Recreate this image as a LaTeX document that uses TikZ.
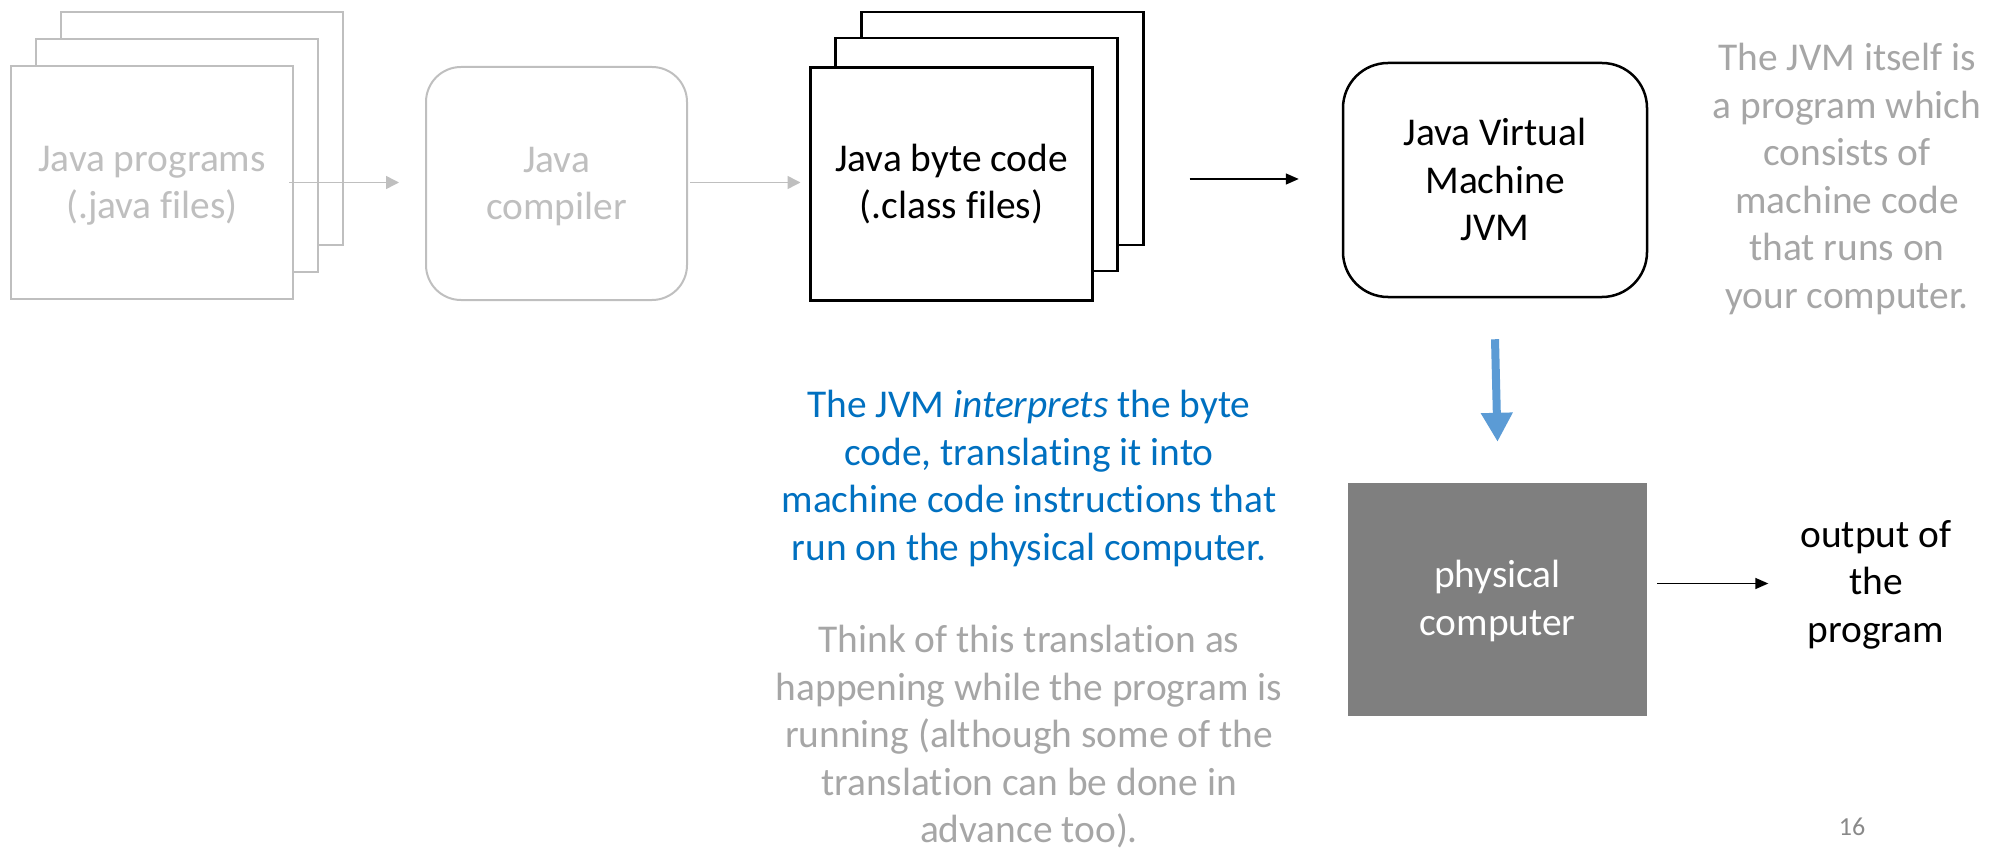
\documentclass[tikz,border=0pt]{standalone}
\usepackage{fontspec}
\setmainfont{Carlito}[Ligatures=NoCommon]
\usetikzlibrary{arrows.meta}

\definecolor{dimgray}{HTML}{BFBFBF}
\definecolor{notegray}{HTML}{A6A6A6}
\definecolor{noteblue}{HTML}{0070C0}
\definecolor{flowblue}{HTML}{5B9BD5}
\definecolor{hwgray}{HTML}{7F7F7F}
\definecolor{numgray}{HTML}{898989}

% multi-line labels are placed by the baseline of their last line
\tikzset{
  bigtext/.style={font=\fontsize{39.4}{47.4}\selectfont, align=center,
                  inner sep=0pt, anchor=base},
  page/.style={rectangle, fill=white, inner sep=0pt, outer sep=0pt,
               minimum width=282pt, minimum height=233pt},
  dimpage/.style={page, draw=dimgray, line width=2.5pt},
  inkpage/.style={page, draw=black, line width=2.5pt},
  dimbox/.style={rectangle, rounded corners=35pt, draw=dimgray, line width=2pt,
                 inner sep=0pt, minimum width=261pt, minimum height=233pt},
  inkbox/.style={rectangle, rounded corners=45pt, draw=black, line width=2.5pt,
                 inner sep=0pt, minimum width=304pt, minimum height=234pt},
  hwbox/.style={rectangle, fill=hwgray, inner sep=0pt,
                minimum width=299pt, minimum height=233pt},
  dimarrow/.style={draw=dimgray, line width=1.5pt, -{Triangle[length=13pt,width=13pt]}},
  inkarrow/.style={draw=black, line width=1.5pt, -{Triangle[length=13pt,width=11pt]}},
  fatarrow/.style={draw=flowblue, line width=8pt, -{Triangle[length=29pt,width=30pt]}},
}

\begin{document}
\begin{tikzpicture}[x=1pt, y=-1pt]
  \useasboundingbox (0,0) rectangle (1996,850);

  % source files: a stack of three pages
  \node[dimpage] (srcback) at (202,128.5) {};
  \node[dimpage] (srcmid)  at (177,155.5) {};
  \node[dimpage] (srcfront) at (152,182.5) {};
  \node[bigtext, text=dimgray] (srclabel) at (152,219) {Java programs\\(.java files)};

  % compiler
  \node[dimbox] (compiler) at (556.5,183.5) {};
  \node[bigtext, text=dimgray] (complabel) at (556.5,220) {Java\\compiler};

  % byte code: a stack of three pages
  \node[inkpage] (bcback) at (1002.5,128.5) {};
  \node[inkpage] (bcmid)  at (976.5,154.5) {};
  \node[inkpage] (bcfront) at (951.5,184) {};
  \node[bigtext] (bclabel) at (951.5,219) {Java byte code\\(.class files)};

  % virtual machine
  \node[inkbox] (jvm) at (1495,180) {};
  \node[bigtext] (jvmlabel) at (1495,240.5) {Java Virtual\\Machine\\JVM};

  % physical machine
  \node[hwbox] (hw) at (1497.5,599.5) {};
  \node[bigtext, text=white] (hwlabel) at (1497.5,635) {physical\\computer};

  % result
  \node[bigtext] (result) at (1876,642) {output of\\the\\program};

  % notes
  \node[bigtext, text=notegray] (jvmnote) at (1847,308)
    {The JVM itself is\\a program which\\consists of\\machine code\\that runs on\\your computer.};
  \node[bigtext, text=noteblue] (interp) at (1029,560)
    {The JVM \textit{interprets} the byte\\code, translating it into\\machine code instructions that\\run on the physical computer.};
  \node[bigtext, text=notegray] (runtime) at (1029,842.5)
    {Think of this translation as\\happening while the program is\\running (although some of the\\translation can be done in\\advance too).};

  % slide number
  \node[font=\fontsize{26}{31}\selectfont, text=numgray, inner sep=0pt] (slideno) at (1852,827) {16};

  % connectors
  \draw[dimarrow] ([xshift=-4pt]srcfront.east) -- ([xshift=-26pt]srcfront.east -| compiler.west);
  \draw[dimarrow] ([xshift=2pt]compiler.east |- srcfront.east) -- ([xshift=-10pt]srcfront.east -| bcfront.west);
  \draw[inkarrow] ([xshift=97pt,yshift=5pt]bcfront.east) -- ([xshift=-43pt,yshift=5pt]bcfront.east -| jvm.west);
  \draw[fatarrow] ([yshift=-41pt]jvm.south) -- ([yshift=41pt]hw.north);
  \draw[inkarrow] ([xshift=10pt,yshift=16pt]hw.east) -- ([xshift=-32pt,yshift=16pt]hw.east -| result.west);
\end{tikzpicture}
\end{document}
